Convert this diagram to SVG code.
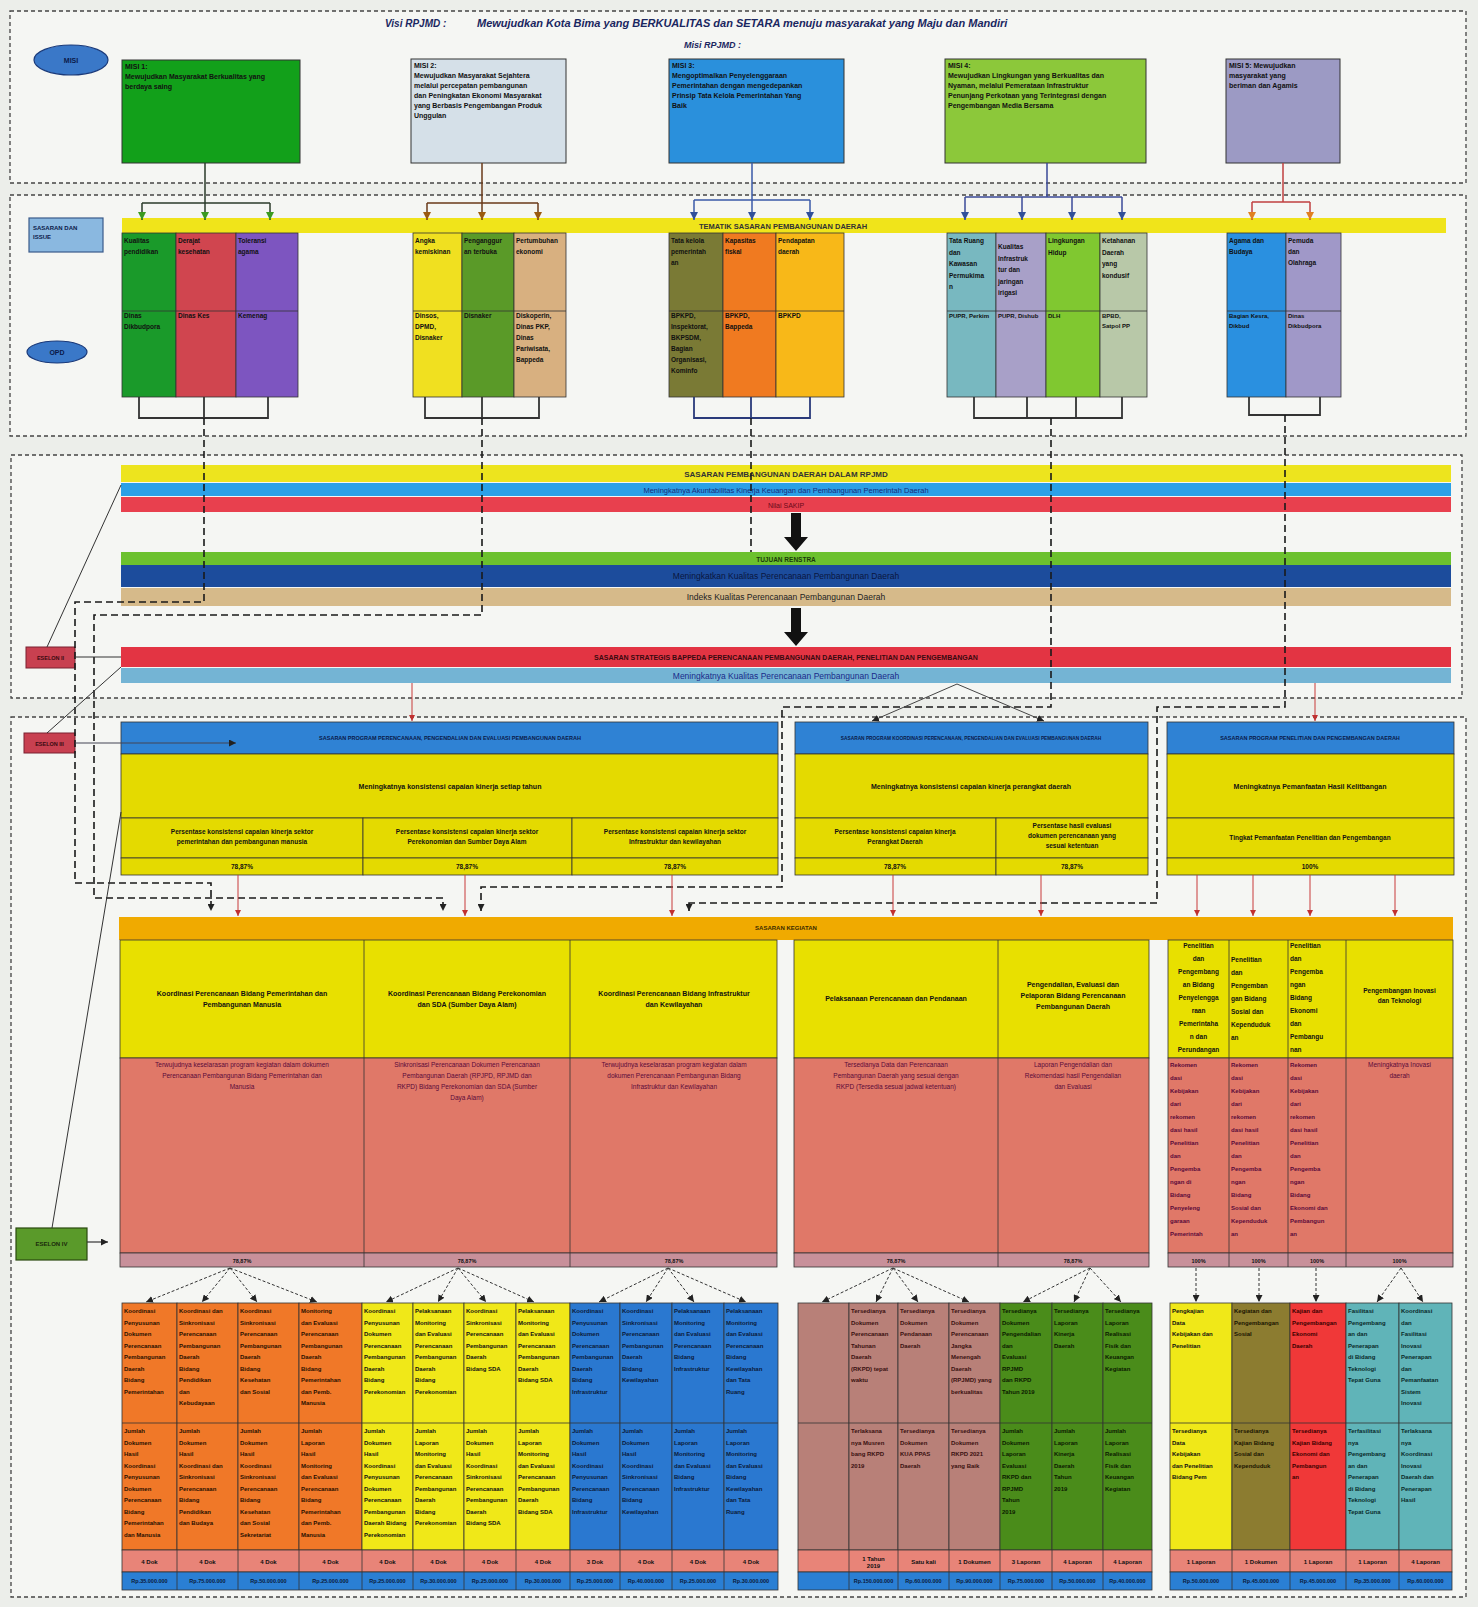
<svg xmlns="http://www.w3.org/2000/svg" width="1478" height="1607" viewBox="0 0 1478 1607">
<style>
.t{font-family:"Liberation Sans",Arial,sans-serif;font-weight:bold;fill:#111}
.n{font-family:"Liberation Sans",Arial,sans-serif;fill:#111}
.c{text-anchor:middle}
.frame{fill:#f5f6f3;stroke:#444;stroke-width:1.3;stroke-dasharray:4 3}
.cell{stroke:#333;stroke-width:0.8}
.dv{stroke:#333;stroke-width:0.8}
.f5{font-size:5.5px}.f6{font-size:6px}.f65{font-size:6.5px}.f7{font-size:7px}.f75{font-size:7.5px}.f8{font-size:8px}.f9{font-size:9px}
.route{fill:none;stroke:#1a1a1a;stroke-width:1.6;stroke-dasharray:7 4}
.red{fill:none;stroke:#c83a3a;stroke-width:1}
.fan{fill:none;stroke:#333;stroke-width:1;stroke-dasharray:3 2}
</style>
<defs>
<marker id="aK" viewBox="0 0 10 10" refX="10" refY="5" markerWidth="7" markerHeight="7" markerUnits="userSpaceOnUse" orient="auto"><path d="M0,0 L10,5 L0,10 z" fill="#222"/></marker>
<marker id="aR" viewBox="0 0 10 10" refX="10" refY="5" markerWidth="6" markerHeight="6" markerUnits="userSpaceOnUse" orient="auto"><path d="M0,0 L10,5 L0,10 z" fill="#c03030"/></marker>
<marker id="aG" viewBox="0 0 10 10" refX="10" refY="5" markerWidth="8" markerHeight="8" markerUnits="userSpaceOnUse" orient="auto"><path d="M0,0 L10,5 L0,10 z" fill="#3a9a20"/></marker>
<marker id="aB" viewBox="0 0 10 10" refX="10" refY="5" markerWidth="8" markerHeight="8" markerUnits="userSpaceOnUse" orient="auto"><path d="M0,0 L10,5 L0,10 z" fill="#9a5a10"/></marker>
<marker id="aU" viewBox="0 0 10 10" refX="10" refY="5" markerWidth="8" markerHeight="8" markerUnits="userSpaceOnUse" orient="auto"><path d="M0,0 L10,5 L0,10 z" fill="#30509a"/></marker>
<marker id="aO" viewBox="0 0 10 10" refX="10" refY="5" markerWidth="8" markerHeight="8" markerUnits="userSpaceOnUse" orient="auto"><path d="M0,0 L10,5 L0,10 z" fill="#e08020"/></marker>
</defs>
<rect width="1478" height="1607" fill="#eceeea"/>

<!-- frames -->
<g id="frames">
<rect class="frame" x="10" y="11" width="1456" height="172"/>
<rect class="frame" x="10" y="195" width="1456" height="241"/>
<rect class="frame" x="11" y="455" width="1451" height="243"/>
<rect class="frame" x="11" y="717" width="1455" height="880"/>
</g>

<!-- Section 1: Visi / Misi -->
<g id="visi">
<text class="t f9" x="385" y="27" style="font-style:italic;font-size:10px;fill:#1a2660">Visi RPJMD :</text>
<text class="t" x="477" y="27" style="font-style:italic;font-size:11px;fill:#1a2660">Mewujudkan Kota Bima yang BERKUALITAS dan SETARA menuju masyarakat yang Maju dan Mandiri</text>
<text class="t" x="684" y="48" style="font-style:italic;font-size:9px;fill:#1a2660">Misi RPJMD :</text>
</g>
<g id="misi-label">
<ellipse cx="71" cy="60" rx="37" ry="15" fill="#3a78c8" stroke="#1a3a7a" stroke-width="1.2"/>
<text class="t f7 c" x="71" y="63" style="fill:#0a1a4a">MISI</text>
</g>
<g id="misi1">
<rect x="122" y="60" width="178" height="103" fill="#12a01a" stroke="#333"/>
<text class="t f7" x="125" y="69"><tspan x="125">MISI 1:</tspan><tspan x="125" dy="10">Mewujudkan Masyarakat Berkualitas yang</tspan><tspan x="125" dy="10">berdaya saing</tspan></text>
</g>
<g id="misi2">
<rect x="411" y="59" width="155" height="104" fill="#d5e0e8" stroke="#333"/>
<text class="t f7" x="414" y="68"><tspan x="414">MISI 2:</tspan><tspan x="414" dy="10">Mewujudkan Masyarakat Sejahtera</tspan><tspan x="414" dy="10">melalui percepatan pembangunan</tspan><tspan x="414" dy="10">dan Peningkatan Ekonomi Masyarakat</tspan><tspan x="414" dy="10">yang Berbasis Pengembangan Produk</tspan><tspan x="414" dy="10">Unggulan</tspan></text>
</g>
<g id="misi3">
<rect x="669" y="59" width="175" height="104" fill="#2a90dc" stroke="#333"/>
<text class="t f7" x="672" y="68"><tspan x="672">MISI 3:</tspan><tspan x="672" dy="10">Mengoptimalkan Penyelenggaraan</tspan><tspan x="672" dy="10">Pemerintahan dengan mengedepankan</tspan><tspan x="672" dy="10">Prinsip Tata Kelola Pemerintahan Yang</tspan><tspan x="672" dy="10">Baik</tspan></text>
</g>
<g id="misi4">
<rect x="945" y="59" width="201" height="104" fill="#8cc83a" stroke="#333"/>
<text class="t f7" x="948" y="68"><tspan x="948">MISI 4:</tspan><tspan x="948" dy="10">Mewujudkan Lingkungan yang Berkualitas dan</tspan><tspan x="948" dy="10">Nyaman, melalui Pemerataan Infrastruktur</tspan><tspan x="948" dy="10">Penunjang Perkotaan yang Terintegrasi dengan</tspan><tspan x="948" dy="10">Pengembangan Media Bersama</tspan></text>
</g>
<g id="misi5">
<rect x="1226" y="59" width="114" height="104" fill="#9c9ac4" stroke="#333"/>
<text class="t f7" x="1229" y="68"><tspan x="1229">MISI 5: Mewujudkan</tspan><tspan x="1229" dy="10">masyarakat yang</tspan><tspan x="1229" dy="10">beriman dan Agamis</tspan></text>
</g>

<!-- Section 2: Tematik -->
<g id="label-sasaran-isu">
<rect x="29" y="218" width="74" height="34" fill="#8ab8e0" stroke="#3a5a8a" stroke-width="1.2"/>
<text class="t f6" x="33" y="230" style="fill:#0a1a4a"><tspan x="33">SASARAN DAN</tspan><tspan x="33" dy="9">ISSUE</tspan></text>
</g>
<g id="label-opd">
<ellipse cx="57" cy="352" rx="30" ry="11" fill="#3a78c8" stroke="#1a3a7a" stroke-width="1.2"/>
<text class="t f7 c" x="57" y="355" style="fill:#0a1a4a">OPD</text>
</g>
<g id="tematik-bar">
<rect x="122" y="218" width="1324" height="15" fill="#f0e41a"/>
<text class="t f75 c" x="783" y="228.5" style="fill:#333">TEMATIK SASARAN PEMBANGUNAN DAERAH</text>
</g>

<g id="tematik-misi1">
<rect class="cell" x="122" y="233" width="54" height="164" fill="#1a9a2a"/>
<rect class="cell" x="176" y="233" width="60" height="164" fill="#d0454f"/>
<rect class="cell" x="236" y="233" width="62" height="164" fill="#7d55c0"/>
<line class="dv" x1="122" y1="311" x2="298" y2="311"/>
<text class="t f65" x="124" y="243"><tspan x="124">Kualitas</tspan><tspan x="124" dy="11">pendidikan</tspan></text>
<text class="t f65" x="178" y="243"><tspan x="178">Derajat</tspan><tspan x="178" dy="11">kesehatan</tspan></text>
<text class="t f65" x="238" y="243"><tspan x="238">Toleransi</tspan><tspan x="238" dy="11">agama</tspan></text>
<text class="t f65" x="124" y="318"><tspan x="124">Dinas</tspan><tspan x="124" dy="11">Dikbudpora</tspan></text>
<text class="t f65" x="178" y="318">Dinas Kes</text>
<text class="t f65" x="238" y="318">Kemenag</text>
</g>
<g id="tematik-misi2">
<rect class="cell" x="413" y="233" width="49" height="164" fill="#f0e020"/>
<rect class="cell" x="462" y="233" width="52" height="164" fill="#5a9a28"/>
<rect class="cell" x="514" y="233" width="52" height="164" fill="#d8b080"/>
<line class="dv" x1="413" y1="311" x2="566" y2="311"/>
<text class="t f65" x="415" y="243"><tspan x="415">Angka</tspan><tspan x="415" dy="11">kemiskinan</tspan></text>
<text class="t f65" x="464" y="243"><tspan x="464">Penganggur</tspan><tspan x="464" dy="11">an terbuka</tspan></text>
<text class="t f65" x="516" y="243"><tspan x="516">Pertumbuhan</tspan><tspan x="516" dy="11">ekonomi</tspan></text>
<text class="t f65" x="415" y="318"><tspan x="415">Dinsos,</tspan><tspan x="415" dy="11">DPMD,</tspan><tspan x="415" dy="11">Disnaker</tspan></text>
<text class="t f65" x="464" y="318">Disnaker</text>
<text class="t f65" x="516" y="318"><tspan x="516">Diskoperin,</tspan><tspan x="516" dy="11">Dinas PKP,</tspan><tspan x="516" dy="11">Dinas</tspan><tspan x="516" dy="11">Pariwisata,</tspan><tspan x="516" dy="11">Bappeda</tspan></text>
</g>
<g id="tematik-misi3">
<rect class="cell" x="669" y="233" width="54" height="164" fill="#7a7a35"/>
<rect class="cell" x="723" y="233" width="53" height="164" fill="#f07a20"/>
<rect class="cell" x="776" y="233" width="68" height="164" fill="#f8b818"/>
<line class="dv" x1="669" y1="311" x2="844" y2="311"/>
<text class="t f65" x="671" y="243"><tspan x="671">Tata kelola</tspan><tspan x="671" dy="11">pemerintah</tspan><tspan x="671" dy="11">an</tspan></text>
<text class="t f65" x="725" y="243"><tspan x="725">Kapasitas</tspan><tspan x="725" dy="11">fiskal</tspan></text>
<text class="t f65" x="778" y="243"><tspan x="778">Pendapatan</tspan><tspan x="778" dy="11">daerah</tspan></text>
<text class="t f65" x="671" y="318"><tspan x="671">BPKPD,</tspan><tspan x="671" dy="11">Inspektorat,</tspan><tspan x="671" dy="11">BKPSDM,</tspan><tspan x="671" dy="11">Bagian</tspan><tspan x="671" dy="11">Organisasi,</tspan><tspan x="671" dy="11">Kominfo</tspan></text>
<text class="t f65" x="725" y="318"><tspan x="725">BPKPD,</tspan><tspan x="725" dy="11">Bappeda</tspan></text>
<text class="t f65" x="778" y="318">BPKPD</text>
</g>
<g id="tematik-misi4">
<rect class="cell" x="947" y="233" width="49" height="164" fill="#78b8c0"/>
<rect class="cell" x="996" y="233" width="50" height="164" fill="#a8a0c8"/>
<rect class="cell" x="1046" y="233" width="54" height="164" fill="#80c830"/>
<rect class="cell" x="1100" y="233" width="47" height="164" fill="#b8c8a8"/>
<line class="dv" x1="947" y1="311" x2="1147" y2="311"/>
<text class="t f65" x="949" y="243"><tspan x="949">Tata Ruang</tspan><tspan x="949" dy="11.5">dan</tspan><tspan x="949" dy="11.5">Kawasan</tspan><tspan x="949" dy="11.5">Permukima</tspan><tspan x="949" dy="11.5">n</tspan></text>
<text class="t f65" x="998" y="249"><tspan x="998">Kualitas</tspan><tspan x="998" dy="11.5">Infrastruk</tspan><tspan x="998" dy="11.5">tur dan</tspan><tspan x="998" dy="11.5">jaringan</tspan><tspan x="998" dy="11.5">irigasi</tspan></text>
<text class="t f65" x="1048" y="243"><tspan x="1048">Lingkungan</tspan><tspan x="1048" dy="11.5">Hidup</tspan></text>
<text class="t f65" x="1102" y="243"><tspan x="1102">Ketahanan</tspan><tspan x="1102" dy="11.5">Daerah</tspan><tspan x="1102" dy="11.5">yang</tspan><tspan x="1102" dy="11.5">kondusif</tspan></text>
<text class="t f6" x="949" y="318">PUPR, Perkim</text>
<text class="t f6" x="998" y="318">PUPR, Dishub</text>
<text class="t f6" x="1048" y="318">DLH</text>
<text class="t f6" x="1102" y="318"><tspan x="1102">BPBD,</tspan><tspan x="1102" dy="10">Satpol PP</tspan></text>
</g>
<g id="tematik-misi5">
<rect class="cell" x="1227" y="233" width="59" height="164" fill="#2a90e0"/>
<rect class="cell" x="1286" y="233" width="55" height="164" fill="#a098c8"/>
<line class="dv" x1="1227" y1="311" x2="1341" y2="311"/>
<text class="t f65" x="1229" y="243"><tspan x="1229">Agama dan</tspan><tspan x="1229" dy="11">Budaya</tspan></text>
<text class="t f65" x="1288" y="243"><tspan x="1288">Pemuda</tspan><tspan x="1288" dy="11">dan</tspan><tspan x="1288" dy="11">Olahraga</tspan></text>
<text class="t f6" x="1229" y="318"><tspan x="1229">Bagian Kesra,</tspan><tspan x="1229" dy="10">Dikbud</tspan></text>
<text class="t f6" x="1288" y="318"><tspan x="1288">Dinas</tspan><tspan x="1288" dy="10">Dikbudpora</tspan></text>
</g>

<!-- Section 3: Sasaran RPJMD / Tujuan / Sasaran strategis -->
<g id="sasaran-rpjmd">
<rect x="121" y="465" width="1330" height="17" fill="#ede41e"/>
<text class="t f8 c" x="786" y="476.5" style="fill:#333">SASARAN PEMBANGUNAN DAERAH DALAM RPJMD</text>
<rect x="121" y="483" width="1330" height="13" fill="#2ba0e6"/>
<text class="n c" x="786" y="492.5" style="font-size:7.5px;fill:#1a2a7a">Meningkatnya Akuntabilitas Kinerja Keuangan dan Pembangunan Pemerintah Daerah</text>
<rect x="121" y="497" width="1330" height="15" fill="#e8404e"/>
<text class="n c" x="786" y="507.5" style="font-size:7px;fill:#6a0a1a">Nilai SAKIP</text>
</g>
<g id="tujuan-renstra">
<rect x="121" y="552" width="1330" height="13" fill="#6cc12e"/>
<text class="t c" x="786" y="561.5" style="font-size:6.5px;fill:#1a3a0a">TUJUAN RENSTRA</text>
<rect x="121" y="565" width="1330" height="22" fill="#1c4c9c"/>
<text class="n c" x="786" y="579" style="font-size:8.5px;fill:#0a1640">Meningkatkan Kualitas Perencanaan Pembangunan Daerah</text>
<rect x="121" y="588" width="1330" height="18" fill="#d6ba8a"/>
<text class="n c" x="786" y="600" style="font-size:8.5px;fill:#222">Indeks Kualitas Perencanaan Pembangunan Daerah</text>
</g>
<g id="sasaran-strategis">
<rect x="121" y="647" width="1330" height="20" fill="#e33443"/>
<text class="t c" x="786" y="660" style="font-size:7px;fill:#3a0a10">SASARAN STRATEGIS BAPPEDA PERENCANAAN PEMBANGUNAN DAERAH, PENELITIAN DAN PENGEMBANGAN</text>
<rect x="121" y="668" width="1330" height="15" fill="#74b4d4"/>
<text class="n c" x="786" y="679" style="font-size:8.5px;fill:#1a2a8a">Meningkatnya Kualitas Perencanaan Pembangunan Daerah</text>
</g>
<g id="big-arrows">
<polygon points="791,513 801,513 801,537 808,537 796,551 784,537 791,537" fill="#111"/>
<polygon points="791,608 801,608 801,632 808,632 796,646 784,632 791,632" fill="#111"/>
</g>

<!-- Eselon labels -->
<g id="eselon2"><rect x="26" y="647" width="49" height="21" fill="#c84050" stroke="#7a2030"/><text class="t f5 c" x="50.5" y="660" style="fill:#3a0a10">ESELON II</text></g>
<g id="eselon3"><rect x="24" y="733" width="51" height="20" fill="#c84050" stroke="#7a2030"/><text class="t f5 c" x="49.5" y="745.5" style="fill:#3a0a10">ESELON III</text></g>
<g id="eselon4"><rect x="16" y="1228" width="71" height="32" fill="#5a9a2a" stroke="#2a4a10" stroke-width="1.2"/><text class="t f6 c" x="51.5" y="1246" style="fill:#1a2a0a">ESELON IV</text></g>

<!-- Eselon III blocks -->
<g id="es3-block1">
<rect class="cell" x="121" y="722" width="657" height="32" fill="#2f82d4"/>
<text class="t f5 c" x="450" y="740" style="fill:#0a1a4a">SASARAN PROGRAM PERENCANAAN, PENGENDALIAN DAN EVALUASI PEMBANGUNAN DAERAH</text>
<rect class="cell" x="121" y="754" width="657" height="64" fill="#e4da00"/>
<text class="t f7 c" x="450" y="789">Meningkatnya konsistensi capaian kinerja setiap tahun</text>
<rect class="cell" x="121" y="818" width="242" height="40" fill="#e4da00"/>
<rect class="cell" x="363" y="818" width="209" height="40" fill="#e4da00"/>
<rect class="cell" x="572" y="818" width="206" height="40" fill="#e4da00"/>
<rect class="cell" x="121" y="858" width="242" height="17" fill="#e4da00"/>
<rect class="cell" x="363" y="858" width="209" height="17" fill="#e4da00"/>
<rect class="cell" x="572" y="858" width="206" height="17" fill="#e4da00"/>
<text class="t f65 c" x="242" y="834"><tspan x="242">Persentase konsistensi capaian kinerja sektor</tspan><tspan x="242" dy="10">pemerintahan dan pembangunan manusia</tspan></text>
<text class="t f65 c" x="467" y="834"><tspan x="467">Persentase konsistensi capaian kinerja sektor</tspan><tspan x="467" dy="10">Perekonomian dan Sumber Daya Alam</tspan></text>
<text class="t f65 c" x="675" y="834"><tspan x="675">Persentase konsistensi capaian kinerja sektor</tspan><tspan x="675" dy="10">Infrastruktur dan kewilayahan</tspan></text>
<text class="t f65 c" x="242" y="869">78,87%</text>
<text class="t f65 c" x="467" y="869">78,87%</text>
<text class="t f65 c" x="675" y="869">78,87%</text>
</g>
<g id="es3-block2">
<rect class="cell" x="795" y="722" width="353" height="32" fill="#2f82d4"/>
<text class="t c" x="971" y="740" style="font-size:4.8px;fill:#0a1a4a">SASARAN PROGRAM KOORDINASI PERENCANAAN, PENGENDALIAN DAN EVALUASI PEMBANGUNAN DAERAH</text>
<rect class="cell" x="795" y="754" width="353" height="64" fill="#e4da00"/>
<text class="t f7 c" x="971" y="789">Meningkatnya konsistensi capaian kinerja perangkat daerah</text>
<rect class="cell" x="795" y="818" width="201" height="40" fill="#e4da00"/>
<rect class="cell" x="996" y="818" width="152" height="40" fill="#e4da00"/>
<rect class="cell" x="795" y="858" width="201" height="17" fill="#e4da00"/>
<rect class="cell" x="996" y="858" width="152" height="17" fill="#e4da00"/>
<text class="t f65 c" x="895" y="834"><tspan x="895">Persentase konsistensi capaian kinerja</tspan><tspan x="895" dy="10">Perangkat Daerah</tspan></text>
<text class="t f65 c" x="1072" y="828"><tspan x="1072">Persentase hasil evaluasi</tspan><tspan x="1072" dy="10">dokumen perencanaan yang</tspan><tspan x="1072" dy="10">sesuai ketentuan</tspan></text>
<text class="t f65 c" x="895" y="869">78,87%</text>
<text class="t f65 c" x="1072" y="869">78,87%</text>
</g>
<g id="es3-block3">
<rect class="cell" x="1167" y="722" width="287" height="32" fill="#2f82d4"/>
<text class="t f5 c" x="1310" y="740" style="fill:#0a1a4a">SASARAN PROGRAM PENELITIAN DAN PENGEMBANGAN DAERAH</text>
<rect class="cell" x="1167" y="754" width="287" height="64" fill="#e4da00"/>
<text class="t f7 c" x="1310" y="789">Meningkatnya Pemanfaatan Hasil Kelitbangan</text>
<rect class="cell" x="1167" y="818" width="287" height="40" fill="#e4da00"/>
<rect class="cell" x="1167" y="858" width="287" height="17" fill="#e4da00"/>
<text class="t f65 c" x="1310" y="840">Tingkat Pemanfaatan Penelitian dan Pengembangan</text>
<text class="t f65 c" x="1310" y="869">100%</text>
</g>

<!-- Sasaran Kegiatan -->
<g id="sasaran-kegiatan-bar">
<rect x="119" y="917" width="1334" height="23" fill="#f0aa00"/>
<text class="t f6 c" x="786" y="930" style="fill:#3a2a00">SASARAN KEGIATAN</text>
</g>
<g id="keg-block1">
<rect class="cell" x="120" y="940" width="657" height="118" fill="#e8e000"/>
<rect class="cell" x="120" y="1058" width="657" height="195" fill="#e07868"/>
<rect class="cell" x="120" y="1253" width="657" height="14" fill="#c8909a"/>
<line class="dv" x1="364" y1="940" x2="364" y2="1267"/>
<line class="dv" x1="570" y1="940" x2="570" y2="1267"/>
<text class="t f7 c" x="242" y="996"><tspan x="242">Koordinasi Perencanaan Bidang Pemerintahan dan</tspan><tspan x="242" dy="11">Pembangunan Manusia</tspan></text>
<text class="t f7 c" x="467" y="996"><tspan x="467">Koordinasi Perencanaan Bidang Perekonomian</tspan><tspan x="467" dy="11">dan SDA (Sumber Daya Alam)</tspan></text>
<text class="t f7 c" x="674" y="996"><tspan x="674">Koordinasi Perencanaan Bidang Infrastruktur</tspan><tspan x="674" dy="11">dan Kewilayahan</tspan></text>
<text class="n c" x="242" y="1067" style="font-size:6.5px;fill:#5a0a3a"><tspan x="242">Terwujudnya keselarasan program kegiatan dalam dokumen</tspan><tspan x="242" dy="11">Perencanaan Pembangunan Bidang Pemerintahan dan</tspan><tspan x="242" dy="11">Manusia</tspan></text>
<text class="n c" x="467" y="1067" style="font-size:6.5px;fill:#5a0a3a"><tspan x="467">Sinkronisasi Perencanaan Dokumen Perencanaan</tspan><tspan x="467" dy="11">Pembangunan Daerah (RPJPD, RPJMD dan</tspan><tspan x="467" dy="11">RKPD) Bidang Perekonomian dan SDA (Sumber</tspan><tspan x="467" dy="11">Daya Alam)</tspan></text>
<text class="n c" x="674" y="1067" style="font-size:6.5px;fill:#5a0a3a"><tspan x="674">Terwujudnya keselarasan program kegiatan dalam</tspan><tspan x="674" dy="11">dokumen Perencanaan Pembangunan Bidang</tspan><tspan x="674" dy="11">Infrastruktur dan Kewilayahan</tspan></text>
<text class="t f5 c" x="242" y="1262.5">78,87%</text>
<text class="t f5 c" x="467" y="1262.5">78,87%</text>
<text class="t f5 c" x="674" y="1262.5">78,87%</text>
</g>
<g id="keg-block2">
<rect class="cell" x="794" y="940" width="355" height="118" fill="#e8e000"/>
<rect class="cell" x="794" y="1058" width="355" height="195" fill="#e07868"/>
<rect class="cell" x="794" y="1253" width="355" height="14" fill="#c8909a"/>
<line class="dv" x1="998" y1="940" x2="998" y2="1267"/>
<text class="t f7 c" x="896" y="1001">Pelaksanaan Perencanaan dan Pendanaan</text>
<text class="t f7 c" x="1073" y="987"><tspan x="1073">Pengendalian, Evaluasi dan</tspan><tspan x="1073" dy="11">Pelaporan Bidang Perencanaan</tspan><tspan x="1073" dy="11">Pembangunan Daerah</tspan></text>
<text class="n c" x="896" y="1067" style="font-size:6.5px;fill:#5a0a3a"><tspan x="896">Tersedianya Data dan Perencanaan</tspan><tspan x="896" dy="11">Pembangunan Daerah yang sesuai dengan</tspan><tspan x="896" dy="11">RKPD (Tersedia sesuai jadwal ketentuan)</tspan></text>
<text class="n c" x="1073" y="1067" style="font-size:6.5px;fill:#5a0a3a"><tspan x="1073">Laporan Pengendalian dan</tspan><tspan x="1073" dy="11">Rekomendasi hasil Pengendalian</tspan><tspan x="1073" dy="11">dan Evaluasi</tspan></text>
<text class="t f5 c" x="896" y="1262.5">78,87%</text>
<text class="t f5 c" x="1073" y="1262.5">78,87%</text>
</g>
<g id="keg-block3">
<rect class="cell" x="1168" y="940" width="285" height="118" fill="#e8e000"/>
<rect class="cell" x="1168" y="1058" width="285" height="195" fill="#e07868"/>
<rect class="cell" x="1168" y="1253" width="285" height="14" fill="#c8909a"/>
<line class="dv" x1="1229" y1="940" x2="1229" y2="1267"/>
<line class="dv" x1="1288" y1="940" x2="1288" y2="1267"/>
<line class="dv" x1="1346" y1="940" x2="1346" y2="1267"/>
<text class="t f65 c" x="1198.5" y="948"><tspan x="1198.5">Penelitian</tspan><tspan x="1198.5" dy="13">dan</tspan><tspan x="1198.5" dy="13">Pengembang</tspan><tspan x="1198.5" dy="13">an Bidang</tspan><tspan x="1198.5" dy="13">Penyelengga</tspan><tspan x="1198.5" dy="13">raan</tspan><tspan x="1198.5" dy="13">Pemerintaha</tspan><tspan x="1198.5" dy="13">n dan</tspan><tspan x="1198.5" dy="13">Perundangan</tspan></text>
<text class="t f65" x="1231" y="962"><tspan x="1231">Penelitian</tspan><tspan x="1231" dy="13">dan</tspan><tspan x="1231" dy="13">Pengemban</tspan><tspan x="1231" dy="13">gan Bidang</tspan><tspan x="1231" dy="13">Sosial dan</tspan><tspan x="1231" dy="13">Kependuduk</tspan><tspan x="1231" dy="13">an</tspan></text>
<text class="t f65" x="1290" y="948"><tspan x="1290">Penelitian</tspan><tspan x="1290" dy="13">dan</tspan><tspan x="1290" dy="13">Pengemba</tspan><tspan x="1290" dy="13">ngan</tspan><tspan x="1290" dy="13">Bidang</tspan><tspan x="1290" dy="13">Ekonomi</tspan><tspan x="1290" dy="13">dan</tspan><tspan x="1290" dy="13">Pembangu</tspan><tspan x="1290" dy="13">nan</tspan></text>
<text class="t f65 c" x="1399.5" y="993"><tspan x="1399.5">Pengembangan Inovasi</tspan><tspan x="1399.5" dy="10">dan Teknologi</tspan></text>
<text class="t f6" x="1170" y="1067" style="fill:#5a0a3a"><tspan x="1170">Rekomen</tspan><tspan x="1170" dy="13">dasi</tspan><tspan x="1170" dy="13">Kebijakan</tspan><tspan x="1170" dy="13">dari</tspan><tspan x="1170" dy="13">rekomen</tspan><tspan x="1170" dy="13">dasi hasil</tspan><tspan x="1170" dy="13">Penelitian</tspan><tspan x="1170" dy="13">dan</tspan><tspan x="1170" dy="13">Pengemba</tspan><tspan x="1170" dy="13">ngan di</tspan><tspan x="1170" dy="13">Bidang</tspan><tspan x="1170" dy="13">Penyeleng</tspan><tspan x="1170" dy="13">garaan</tspan><tspan x="1170" dy="13">Pemerintah</tspan></text>
<text class="t f6" x="1231" y="1067" style="fill:#5a0a3a"><tspan x="1231">Rekomen</tspan><tspan x="1231" dy="13">dasi</tspan><tspan x="1231" dy="13">Kebijakan</tspan><tspan x="1231" dy="13">dari</tspan><tspan x="1231" dy="13">rekomen</tspan><tspan x="1231" dy="13">dasi hasil</tspan><tspan x="1231" dy="13">Penelitian</tspan><tspan x="1231" dy="13">dan</tspan><tspan x="1231" dy="13">Pengemba</tspan><tspan x="1231" dy="13">ngan</tspan><tspan x="1231" dy="13">Bidang</tspan><tspan x="1231" dy="13">Sosial dan</tspan><tspan x="1231" dy="13">Kependuduk</tspan><tspan x="1231" dy="13">an</tspan></text>
<text class="t f6" x="1290" y="1067" style="fill:#5a0a3a"><tspan x="1290">Rekomen</tspan><tspan x="1290" dy="13">dasi</tspan><tspan x="1290" dy="13">Kebijakan</tspan><tspan x="1290" dy="13">dari</tspan><tspan x="1290" dy="13">rekomen</tspan><tspan x="1290" dy="13">dasi hasil</tspan><tspan x="1290" dy="13">Penelitian</tspan><tspan x="1290" dy="13">dan</tspan><tspan x="1290" dy="13">Pengemba</tspan><tspan x="1290" dy="13">ngan</tspan><tspan x="1290" dy="13">Bidang</tspan><tspan x="1290" dy="13">Ekonomi dan</tspan><tspan x="1290" dy="13">Pembangun</tspan><tspan x="1290" dy="13">an</tspan></text>
<text class="n c" x="1399.5" y="1067" style="font-size:6.5px;fill:#5a0a3a"><tspan x="1399.5">Meningkatnya Inovasi</tspan><tspan x="1399.5" dy="11">daerah</tspan></text>
<text class="t f5 c" x="1198.5" y="1262.5">100%</text>
<text class="t f5 c" x="1258.5" y="1262.5">100%</text>
<text class="t f5 c" x="1317" y="1262.5">100%</text>
<text class="t f5 c" x="1399.5" y="1262.5">100%</text>
</g>

<!-- Sub-kegiatan tables -->
<g id="sub-orange">
<rect class="cell" x="122" y="1303" width="55" height="247" fill="#f07828"/>
<rect class="cell" x="177" y="1303" width="61" height="247" fill="#f07828"/>
<rect class="cell" x="238" y="1303" width="61" height="247" fill="#f07828"/>
<rect class="cell" x="299" y="1303" width="63" height="247" fill="#f07828"/>
<line class="dv" x1="122" y1="1423" x2="362" y2="1423"/>
<text class="t f6" x="124" y="1313" style="fill:#2a1000"><tspan x="124">Koordinasi</tspan><tspan x="124" dy="11.5">Penyusunan</tspan><tspan x="124" dy="11.5">Dokumen</tspan><tspan x="124" dy="11.5">Perencanaan</tspan><tspan x="124" dy="11.5">Pembangunan</tspan><tspan x="124" dy="11.5">Daerah</tspan><tspan x="124" dy="11.5">Bidang</tspan><tspan x="124" dy="11.5">Pemerintahan</tspan></text>
<text class="t f6" x="179" y="1313" style="fill:#2a1000"><tspan x="179">Koordinasi dan</tspan><tspan x="179" dy="11.5">Sinkronisasi</tspan><tspan x="179" dy="11.5">Perencanaan</tspan><tspan x="179" dy="11.5">Pembangunan</tspan><tspan x="179" dy="11.5">Daerah</tspan><tspan x="179" dy="11.5">Bidang</tspan><tspan x="179" dy="11.5">Pendidikan</tspan><tspan x="179" dy="11.5">dan</tspan><tspan x="179" dy="11.5">Kebudayaan</tspan></text>
<text class="t f6" x="240" y="1313" style="fill:#2a1000"><tspan x="240">Koordinasi</tspan><tspan x="240" dy="11.5">Sinkronisasi</tspan><tspan x="240" dy="11.5">Perencanaan</tspan><tspan x="240" dy="11.5">Pembangunan</tspan><tspan x="240" dy="11.5">Daerah</tspan><tspan x="240" dy="11.5">Bidang</tspan><tspan x="240" dy="11.5">Kesehatan</tspan><tspan x="240" dy="11.5">dan Sosial</tspan></text>
<text class="t f6" x="301" y="1313" style="fill:#2a1000"><tspan x="301">Monitoring</tspan><tspan x="301" dy="11.5">dan Evaluasi</tspan><tspan x="301" dy="11.5">Perencanaan</tspan><tspan x="301" dy="11.5">Pembangunan</tspan><tspan x="301" dy="11.5">Daerah</tspan><tspan x="301" dy="11.5">Bidang</tspan><tspan x="301" dy="11.5">Pemerintahan</tspan><tspan x="301" dy="11.5">dan Pemb.</tspan><tspan x="301" dy="11.5">Manusia</tspan></text>
<text class="t f6" x="124" y="1433" style="fill:#2a1000"><tspan x="124">Jumlah</tspan><tspan x="124" dy="11.5">Dokumen</tspan><tspan x="124" dy="11.5">Hasil</tspan><tspan x="124" dy="11.5">Koordinasi</tspan><tspan x="124" dy="11.5">Penyusunan</tspan><tspan x="124" dy="11.5">Dokumen</tspan><tspan x="124" dy="11.5">Perencanaan</tspan><tspan x="124" dy="11.5">Bidang</tspan><tspan x="124" dy="11.5">Pemerintahan</tspan><tspan x="124" dy="11.5">dan Manusia</tspan></text>
<text class="t f6" x="179" y="1433" style="fill:#2a1000"><tspan x="179">Jumlah</tspan><tspan x="179" dy="11.5">Dokumen</tspan><tspan x="179" dy="11.5">Hasil</tspan><tspan x="179" dy="11.5">Koordinasi dan</tspan><tspan x="179" dy="11.5">Sinkronisasi</tspan><tspan x="179" dy="11.5">Perencanaan</tspan><tspan x="179" dy="11.5">Bidang</tspan><tspan x="179" dy="11.5">Pendidikan</tspan><tspan x="179" dy="11.5">dan Budaya</tspan></text>
<text class="t f6" x="240" y="1433" style="fill:#2a1000"><tspan x="240">Jumlah</tspan><tspan x="240" dy="11.5">Dokumen</tspan><tspan x="240" dy="11.5">Hasil</tspan><tspan x="240" dy="11.5">Koordinasi</tspan><tspan x="240" dy="11.5">Sinkronisasi</tspan><tspan x="240" dy="11.5">Perencanaan</tspan><tspan x="240" dy="11.5">Bidang</tspan><tspan x="240" dy="11.5">Kesehatan</tspan><tspan x="240" dy="11.5">dan Sosial</tspan><tspan x="240" dy="11.5">Sekretariat</tspan></text>
<text class="t f6" x="301" y="1433" style="fill:#2a1000"><tspan x="301">Jumlah</tspan><tspan x="301" dy="11.5">Laporan</tspan><tspan x="301" dy="11.5">Hasil</tspan><tspan x="301" dy="11.5">Monitoring</tspan><tspan x="301" dy="11.5">dan Evaluasi</tspan><tspan x="301" dy="11.5">Perencanaan</tspan><tspan x="301" dy="11.5">Bidang</tspan><tspan x="301" dy="11.5">Pemerintahan</tspan><tspan x="301" dy="11.5">dan Pemb.</tspan><tspan x="301" dy="11.5">Manusia</tspan></text>
</g>
<g id="sub-yellow">
<rect class="cell" x="362" y="1303" width="51" height="247" fill="#f0e818"/>
<rect class="cell" x="413" y="1303" width="51" height="247" fill="#f0e818"/>
<rect class="cell" x="464" y="1303" width="52" height="247" fill="#f0e818"/>
<rect class="cell" x="516" y="1303" width="54" height="247" fill="#f0e818"/>
<line class="dv" x1="362" y1="1423" x2="570" y2="1423"/>
<text class="t f6" x="364" y="1313"><tspan x="364">Koordinasi</tspan><tspan x="364" dy="11.5">Penyusunan</tspan><tspan x="364" dy="11.5">Dokumen</tspan><tspan x="364" dy="11.5">Perencanaan</tspan><tspan x="364" dy="11.5">Pembangunan</tspan><tspan x="364" dy="11.5">Daerah</tspan><tspan x="364" dy="11.5">Bidang</tspan><tspan x="364" dy="11.5">Perekonomian</tspan></text>
<text class="t f6" x="415" y="1313"><tspan x="415">Pelaksanaan</tspan><tspan x="415" dy="11.5">Monitoring</tspan><tspan x="415" dy="11.5">dan Evaluasi</tspan><tspan x="415" dy="11.5">Perencanaan</tspan><tspan x="415" dy="11.5">Pembangunan</tspan><tspan x="415" dy="11.5">Daerah</tspan><tspan x="415" dy="11.5">Bidang</tspan><tspan x="415" dy="11.5">Perekonomian</tspan></text>
<text class="t f6" x="466" y="1313"><tspan x="466">Koordinasi</tspan><tspan x="466" dy="11.5">Sinkronisasi</tspan><tspan x="466" dy="11.5">Perencanaan</tspan><tspan x="466" dy="11.5">Pembangunan</tspan><tspan x="466" dy="11.5">Daerah</tspan><tspan x="466" dy="11.5">Bidang SDA</tspan></text>
<text class="t f6" x="518" y="1313"><tspan x="518">Pelaksanaan</tspan><tspan x="518" dy="11.5">Monitoring</tspan><tspan x="518" dy="11.5">dan Evaluasi</tspan><tspan x="518" dy="11.5">Perencanaan</tspan><tspan x="518" dy="11.5">Pembangunan</tspan><tspan x="518" dy="11.5">Daerah</tspan><tspan x="518" dy="11.5">Bidang SDA</tspan></text>
<text class="t f6" x="364" y="1433"><tspan x="364">Jumlah</tspan><tspan x="364" dy="11.5">Dokumen</tspan><tspan x="364" dy="11.5">Hasil</tspan><tspan x="364" dy="11.5">Koordinasi</tspan><tspan x="364" dy="11.5">Penyusunan</tspan><tspan x="364" dy="11.5">Dokumen</tspan><tspan x="364" dy="11.5">Perencanaan</tspan><tspan x="364" dy="11.5">Pembangunan</tspan><tspan x="364" dy="11.5">Daerah Bidang</tspan><tspan x="364" dy="11.5">Perekonomian</tspan></text>
<text class="t f6" x="415" y="1433"><tspan x="415">Jumlah</tspan><tspan x="415" dy="11.5">Laporan</tspan><tspan x="415" dy="11.5">Monitoring</tspan><tspan x="415" dy="11.5">dan Evaluasi</tspan><tspan x="415" dy="11.5">Perencanaan</tspan><tspan x="415" dy="11.5">Pembangunan</tspan><tspan x="415" dy="11.5">Daerah</tspan><tspan x="415" dy="11.5">Bidang</tspan><tspan x="415" dy="11.5">Perekonomian</tspan></text>
<text class="t f6" x="466" y="1433"><tspan x="466">Jumlah</tspan><tspan x="466" dy="11.5">Dokumen</tspan><tspan x="466" dy="11.5">Hasil</tspan><tspan x="466" dy="11.5">Koordinasi</tspan><tspan x="466" dy="11.5">Sinkronisasi</tspan><tspan x="466" dy="11.5">Perencanaan</tspan><tspan x="466" dy="11.5">Pembangunan</tspan><tspan x="466" dy="11.5">Daerah</tspan><tspan x="466" dy="11.5">Bidang SDA</tspan></text>
<text class="t f6" x="518" y="1433"><tspan x="518">Jumlah</tspan><tspan x="518" dy="11.5">Laporan</tspan><tspan x="518" dy="11.5">Monitoring</tspan><tspan x="518" dy="11.5">dan Evaluasi</tspan><tspan x="518" dy="11.5">Perencanaan</tspan><tspan x="518" dy="11.5">Pembangunan</tspan><tspan x="518" dy="11.5">Daerah</tspan><tspan x="518" dy="11.5">Bidang SDA</tspan></text>
</g>
<g id="sub-blue">
<rect class="cell" x="570" y="1303" width="50" height="247" fill="#2a78d0"/>
<rect class="cell" x="620" y="1303" width="52" height="247" fill="#2a78d0"/>
<rect class="cell" x="672" y="1303" width="52" height="247" fill="#2a78d0"/>
<rect class="cell" x="724" y="1303" width="54" height="247" fill="#2a78d0"/>
<line class="dv" x1="570" y1="1423" x2="778" y2="1423"/>
<text class="t f6" x="572" y="1313" style="fill:#0a1a3a"><tspan x="572">Koordinasi</tspan><tspan x="572" dy="11.5">Penyusunan</tspan><tspan x="572" dy="11.5">Dokumen</tspan><tspan x="572" dy="11.5">Perencanaan</tspan><tspan x="572" dy="11.5">Pembangunan</tspan><tspan x="572" dy="11.5">Daerah</tspan><tspan x="572" dy="11.5">Bidang</tspan><tspan x="572" dy="11.5">Infrastruktur</tspan></text>
<text class="t f6" x="622" y="1313" style="fill:#0a1a3a"><tspan x="622">Koordinasi</tspan><tspan x="622" dy="11.5">Sinkronisasi</tspan><tspan x="622" dy="11.5">Perencanaan</tspan><tspan x="622" dy="11.5">Pembangunan</tspan><tspan x="622" dy="11.5">Daerah</tspan><tspan x="622" dy="11.5">Bidang</tspan><tspan x="622" dy="11.5">Kewilayahan</tspan></text>
<text class="t f6" x="674" y="1313" style="fill:#0a1a3a"><tspan x="674">Pelaksanaan</tspan><tspan x="674" dy="11.5">Monitoring</tspan><tspan x="674" dy="11.5">dan Evaluasi</tspan><tspan x="674" dy="11.5">Perencanaan</tspan><tspan x="674" dy="11.5">Bidang</tspan><tspan x="674" dy="11.5">Infrastruktur</tspan></text>
<text class="t f6" x="726" y="1313" style="fill:#0a1a3a"><tspan x="726">Pelaksanaan</tspan><tspan x="726" dy="11.5">Monitoring</tspan><tspan x="726" dy="11.5">dan Evaluasi</tspan><tspan x="726" dy="11.5">Perencanaan</tspan><tspan x="726" dy="11.5">Bidang</tspan><tspan x="726" dy="11.5">Kewilayahan</tspan><tspan x="726" dy="11.5">dan Tata</tspan><tspan x="726" dy="11.5">Ruang</tspan></text>
<text class="t f6" x="572" y="1433" style="fill:#0a1a3a"><tspan x="572">Jumlah</tspan><tspan x="572" dy="11.5">Dokumen</tspan><tspan x="572" dy="11.5">Hasil</tspan><tspan x="572" dy="11.5">Koordinasi</tspan><tspan x="572" dy="11.5">Penyusunan</tspan><tspan x="572" dy="11.5">Perencanaan</tspan><tspan x="572" dy="11.5">Bidang</tspan><tspan x="572" dy="11.5">Infrastruktur</tspan></text>
<text class="t f6" x="622" y="1433" style="fill:#0a1a3a"><tspan x="622">Jumlah</tspan><tspan x="622" dy="11.5">Dokumen</tspan><tspan x="622" dy="11.5">Hasil</tspan><tspan x="622" dy="11.5">Koordinasi</tspan><tspan x="622" dy="11.5">Sinkronisasi</tspan><tspan x="622" dy="11.5">Perencanaan</tspan><tspan x="622" dy="11.5">Bidang</tspan><tspan x="622" dy="11.5">Kewilayahan</tspan></text>
<text class="t f6" x="674" y="1433" style="fill:#0a1a3a"><tspan x="674">Jumlah</tspan><tspan x="674" dy="11.5">Laporan</tspan><tspan x="674" dy="11.5">Monitoring</tspan><tspan x="674" dy="11.5">dan Evaluasi</tspan><tspan x="674" dy="11.5">Bidang</tspan><tspan x="674" dy="11.5">Infrastruktur</tspan></text>
<text class="t f6" x="726" y="1433" style="fill:#0a1a3a"><tspan x="726">Jumlah</tspan><tspan x="726" dy="11.5">Laporan</tspan><tspan x="726" dy="11.5">Monitoring</tspan><tspan x="726" dy="11.5">dan Evaluasi</tspan><tspan x="726" dy="11.5">Bidang</tspan><tspan x="726" dy="11.5">Kewilayahan</tspan><tspan x="726" dy="11.5">dan Tata</tspan><tspan x="726" dy="11.5">Ruang</tspan></text>
</g>
<g id="sub-mauve">
<rect class="cell" x="798" y="1303" width="51" height="247" fill="#b88078"/>
<rect class="cell" x="849" y="1303" width="49" height="247" fill="#b88078"/>
<rect class="cell" x="898" y="1303" width="51" height="247" fill="#b88078"/>
<rect class="cell" x="949" y="1303" width="51" height="247" fill="#b88078"/>
<line class="dv" x1="798" y1="1423" x2="1000" y2="1423"/>
<text class="t f6" x="851" y="1313" style="fill:#3a1010"><tspan x="851">Tersedianya</tspan><tspan x="851" dy="11.5">Dokumen</tspan><tspan x="851" dy="11.5">Perencanaan</tspan><tspan x="851" dy="11.5">Tahunan</tspan><tspan x="851" dy="11.5">Daerah</tspan><tspan x="851" dy="11.5">(RKPD) tepat</tspan><tspan x="851" dy="11.5">waktu</tspan></text>
<text class="t f6" x="900" y="1313" style="fill:#3a1010"><tspan x="900">Tersedianya</tspan><tspan x="900" dy="11.5">Dokumen</tspan><tspan x="900" dy="11.5">Pendanaan</tspan><tspan x="900" dy="11.5">Daerah</tspan></text>
<text class="t f6" x="951" y="1313" style="fill:#3a1010"><tspan x="951">Tersedianya</tspan><tspan x="951" dy="11.5">Dokumen</tspan><tspan x="951" dy="11.5">Perencanaan</tspan><tspan x="951" dy="11.5">Jangka</tspan><tspan x="951" dy="11.5">Menengah</tspan><tspan x="951" dy="11.5">Daerah</tspan><tspan x="951" dy="11.5">(RPJMD) yang</tspan><tspan x="951" dy="11.5">berkualitas</tspan></text>
<text class="t f6" x="851" y="1433" style="fill:#3a1010"><tspan x="851">Terlaksana</tspan><tspan x="851" dy="11.5">nya Musren</tspan><tspan x="851" dy="11.5">bang RKPD</tspan><tspan x="851" dy="11.5">2019</tspan></text>
<text class="t f6" x="900" y="1433" style="fill:#3a1010"><tspan x="900">Tersedianya</tspan><tspan x="900" dy="11.5">Dokumen</tspan><tspan x="900" dy="11.5">KUA PPAS</tspan><tspan x="900" dy="11.5">Daerah</tspan></text>
<text class="t f6" x="951" y="1433" style="fill:#3a1010"><tspan x="951">Tersedianya</tspan><tspan x="951" dy="11.5">Dokumen</tspan><tspan x="951" dy="11.5">RKPD 2021</tspan><tspan x="951" dy="11.5">yang Baik</tspan></text>
</g>
<g id="sub-green">
<rect class="cell" x="1000" y="1303" width="52" height="247" fill="#4a8c1a"/>
<rect class="cell" x="1052" y="1303" width="51" height="247" fill="#4a8c1a"/>
<rect class="cell" x="1103" y="1303" width="49" height="247" fill="#4a8c1a"/>
<line class="dv" x1="1000" y1="1423" x2="1152" y2="1423"/>
<text class="t f6" x="1002" y="1313" style="fill:#0a1a00"><tspan x="1002">Tersedianya</tspan><tspan x="1002" dy="11.5">Dokumen</tspan><tspan x="1002" dy="11.5">Pengendalian</tspan><tspan x="1002" dy="11.5">dan</tspan><tspan x="1002" dy="11.5">Evaluasi</tspan><tspan x="1002" dy="11.5">RPJMD</tspan><tspan x="1002" dy="11.5">dan RKPD</tspan><tspan x="1002" dy="11.5">Tahun 2019</tspan></text>
<text class="t f6" x="1054" y="1313" style="fill:#0a1a00"><tspan x="1054">Tersedianya</tspan><tspan x="1054" dy="11.5">Laporan</tspan><tspan x="1054" dy="11.5">Kinerja</tspan><tspan x="1054" dy="11.5">Daerah</tspan></text>
<text class="t f6" x="1105" y="1313" style="fill:#0a1a00"><tspan x="1105">Tersedianya</tspan><tspan x="1105" dy="11.5">Laporan</tspan><tspan x="1105" dy="11.5">Realisasi</tspan><tspan x="1105" dy="11.5">Fisik dan</tspan><tspan x="1105" dy="11.5">Keuangan</tspan><tspan x="1105" dy="11.5">Kegiatan</tspan></text>
<text class="t f6" x="1002" y="1433" style="fill:#0a1a00"><tspan x="1002">Jumlah</tspan><tspan x="1002" dy="11.5">Dokumen</tspan><tspan x="1002" dy="11.5">Laporan</tspan><tspan x="1002" dy="11.5">Evaluasi</tspan><tspan x="1002" dy="11.5">RKPD dan</tspan><tspan x="1002" dy="11.5">RPJMD</tspan><tspan x="1002" dy="11.5">Tahun</tspan><tspan x="1002" dy="11.5">2019</tspan></text>
<text class="t f6" x="1054" y="1433" style="fill:#0a1a00"><tspan x="1054">Jumlah</tspan><tspan x="1054" dy="11.5">Laporan</tspan><tspan x="1054" dy="11.5">Kinerja</tspan><tspan x="1054" dy="11.5">Daerah</tspan><tspan x="1054" dy="11.5">Tahun</tspan><tspan x="1054" dy="11.5">2019</tspan></text>
<text class="t f6" x="1105" y="1433" style="fill:#0a1a00"><tspan x="1105">Jumlah</tspan><tspan x="1105" dy="11.5">Laporan</tspan><tspan x="1105" dy="11.5">Realisasi</tspan><tspan x="1105" dy="11.5">Fisik dan</tspan><tspan x="1105" dy="11.5">Keuangan</tspan><tspan x="1105" dy="11.5">Kegiatan</tspan></text>
</g>
<g id="sub-right">
<rect class="cell" x="1170" y="1303" width="62" height="247" fill="#f0e818"/>
<rect class="cell" x="1232" y="1303" width="58" height="247" fill="#8c7c30"/>
<rect class="cell" x="1290" y="1303" width="56" height="247" fill="#f03838"/>
<rect class="cell" x="1346" y="1303" width="53" height="247" fill="#60b4b8"/>
<rect class="cell" x="1399" y="1303" width="53" height="247" fill="#60b4b8"/>
<line class="dv" x1="1170" y1="1423" x2="1452" y2="1423"/>
<text class="t f6" x="1172" y="1313"><tspan x="1172">Pengkajian</tspan><tspan x="1172" dy="11.5">Data</tspan><tspan x="1172" dy="11.5">Kebijakan dan</tspan><tspan x="1172" dy="11.5">Penelitian</tspan></text>
<text class="t f6" x="1234" y="1313" style="fill:#1a1400"><tspan x="1234">Kegiatan dan</tspan><tspan x="1234" dy="11.5">Pengembangan</tspan><tspan x="1234" dy="11.5">Sosial</tspan></text>
<text class="t f6" x="1292" y="1313" style="fill:#3a0000"><tspan x="1292">Kajian dan</tspan><tspan x="1292" dy="11.5">Pengembangan</tspan><tspan x="1292" dy="11.5">Ekonomi</tspan><tspan x="1292" dy="11.5">Daerah</tspan></text>
<text class="t f6" x="1348" y="1313" style="fill:#0a2a2a"><tspan x="1348">Fasilitasi</tspan><tspan x="1348" dy="11.5">Pengembang</tspan><tspan x="1348" dy="11.5">an dan</tspan><tspan x="1348" dy="11.5">Penerapan</tspan><tspan x="1348" dy="11.5">di Bidang</tspan><tspan x="1348" dy="11.5">Teknologi</tspan><tspan x="1348" dy="11.5">Tepat Guna</tspan></text>
<text class="t f6" x="1401" y="1313" style="fill:#0a2a2a"><tspan x="1401">Koordinasi</tspan><tspan x="1401" dy="11.5">dan</tspan><tspan x="1401" dy="11.5">Fasilitasi</tspan><tspan x="1401" dy="11.5">Inovasi</tspan><tspan x="1401" dy="11.5">Penerapan</tspan><tspan x="1401" dy="11.5">dan</tspan><tspan x="1401" dy="11.5">Pemanfaatan</tspan><tspan x="1401" dy="11.5">Sistem</tspan><tspan x="1401" dy="11.5">Inovasi</tspan></text>
<text class="t f6" x="1172" y="1433"><tspan x="1172">Tersedianya</tspan><tspan x="1172" dy="11.5">Data</tspan><tspan x="1172" dy="11.5">Kebijakan</tspan><tspan x="1172" dy="11.5">dan Penelitian</tspan><tspan x="1172" dy="11.5">Bidang Pem</tspan></text>
<text class="t f6" x="1234" y="1433" style="fill:#1a1400"><tspan x="1234">Tersedianya</tspan><tspan x="1234" dy="11.5">Kajian Bidang</tspan><tspan x="1234" dy="11.5">Sosial dan</tspan><tspan x="1234" dy="11.5">Kependuduk</tspan></text>
<text class="t f6" x="1292" y="1433" style="fill:#3a0000"><tspan x="1292">Tersedianya</tspan><tspan x="1292" dy="11.5">Kajian Bidang</tspan><tspan x="1292" dy="11.5">Ekonomi dan</tspan><tspan x="1292" dy="11.5">Pembangun</tspan><tspan x="1292" dy="11.5">an</tspan></text>
<text class="t f6" x="1348" y="1433" style="fill:#0a2a2a"><tspan x="1348">Terfasilitasi</tspan><tspan x="1348" dy="11.5">nya</tspan><tspan x="1348" dy="11.5">Pengembang</tspan><tspan x="1348" dy="11.5">an dan</tspan><tspan x="1348" dy="11.5">Penerapan</tspan><tspan x="1348" dy="11.5">di Bidang</tspan><tspan x="1348" dy="11.5">Teknologi</tspan><tspan x="1348" dy="11.5">Tepat Guna</tspan></text>
<text class="t f6" x="1401" y="1433" style="fill:#0a2a2a"><tspan x="1401">Terlaksana</tspan><tspan x="1401" dy="11.5">nya</tspan><tspan x="1401" dy="11.5">Koordinasi</tspan><tspan x="1401" dy="11.5">Inovasi</tspan><tspan x="1401" dy="11.5">Daerah dan</tspan><tspan x="1401" dy="11.5">Penerapan</tspan><tspan x="1401" dy="11.5">Hasil</tspan></text>
</g>
<g id="sub-values">
<rect x="122" y="1550" width="656" height="22" fill="#e88478" stroke="#333" stroke-width="0.8"/>
<rect x="122" y="1572" width="656" height="18" fill="#2a7fd4" stroke="#333" stroke-width="0.8"/>
<rect x="798" y="1550" width="354" height="22" fill="#e88478" stroke="#333" stroke-width="0.8"/>
<rect x="798" y="1572" width="354" height="18" fill="#2a7fd4" stroke="#333" stroke-width="0.8"/>
<rect x="1170" y="1550" width="282" height="22" fill="#e88478" stroke="#333" stroke-width="0.8"/>
<rect x="1170" y="1572" width="282" height="18" fill="#2a7fd4" stroke="#333" stroke-width="0.8"/>
<path class="dv" d="M177,1550V1590M238,1550V1590M299,1550V1590M362,1550V1590M413,1550V1590M464,1550V1590M516,1550V1590M570,1550V1590M620,1550V1590M672,1550V1590M724,1550V1590M849,1550V1590M898,1550V1590M949,1550V1590M1000,1550V1590M1052,1550V1590M1103,1550V1590M1232,1550V1590M1290,1550V1590M1346,1550V1590M1399,1550V1590"/>
<g class="t f6 c">
<text x="149.5" y="1564">4 Dok</text><text x="207.5" y="1564">4 Dok</text><text x="268.5" y="1564">4 Dok</text><text x="330.5" y="1564">4 Dok</text>
<text x="387.5" y="1564">4 Dok</text><text x="438.5" y="1564">4 Dok</text><text x="490" y="1564">4 Dok</text><text x="543" y="1564">4 Dok</text>
<text x="595" y="1564">3 Dok</text><text x="646" y="1564">4 Dok</text><text x="698" y="1564">4 Dok</text><text x="751" y="1564">4 Dok</text>
<text x="873.5" y="1561"><tspan x="873.5">1 Tahun</tspan><tspan x="873.5" dy="7">2019</tspan></text><text x="923.5" y="1564">Satu kali</text><text x="974.5" y="1564">1 Dokumen</text>
<text x="1026" y="1564">3 Laporan</text><text x="1077.5" y="1564">4 Laporan</text><text x="1127.5" y="1564">4 Laporan</text>
<text x="1201" y="1564">1 Laporan</text><text x="1261" y="1564">1 Dokumen</text><text x="1318" y="1564">1 Laporan</text><text x="1372.5" y="1564">1 Laporan</text><text x="1425.5" y="1564">4 Laporan</text>
</g>
<g class="t f5 c" style="fill:#0a1a3a">
<text x="149.5" y="1583">Rp.35.000.000</text><text x="207.5" y="1583">Rp.75.000.000</text><text x="268.5" y="1583">Rp.50.000.000</text><text x="330.5" y="1583">Rp.25.000.000</text>
<text x="387.5" y="1583">Rp.25.000.000</text><text x="438.5" y="1583">Rp.30.000.000</text><text x="490" y="1583">Rp.25.000.000</text><text x="543" y="1583">Rp.30.000.000</text>
<text x="595" y="1583">Rp.25.000.000</text><text x="646" y="1583">Rp.40.000.000</text><text x="698" y="1583">Rp.25.000.000</text><text x="751" y="1583">Rp.30.000.000</text>
<text x="873.5" y="1583">Rp.150.000.000</text><text x="923.5" y="1583">Rp.60.000.000</text><text x="974.5" y="1583">Rp.90.000.000</text>
<text x="1026" y="1583">Rp.75.000.000</text><text x="1077.5" y="1583">Rp.50.000.000</text><text x="1127.5" y="1583">Rp.40.000.000</text>
<text x="1201" y="1583">Rp.50.000.000</text><text x="1261" y="1583">Rp.45.000.000</text><text x="1318" y="1583">Rp.45.000.000</text><text x="1372.5" y="1583">Rp.35.000.000</text><text x="1425.5" y="1583">Rp.60.000.000</text>
</g>
</g>

<!-- Connectors -->
<g id="connectors">
<!-- misi to tematik -->
<path d="M205,163V203M142,203H270" fill="none" stroke="#2b3b2b" stroke-width="1.5"/>
<line x1="142" y1="203" x2="142" y2="220" stroke="#2b3b2b" stroke-width="1.5" marker-end="url(#aG)"/>
<line x1="205" y1="203" x2="205" y2="220" stroke="#2b3b2b" stroke-width="1.5" marker-end="url(#aG)"/>
<line x1="270" y1="203" x2="270" y2="220" stroke="#2b3b2b" stroke-width="1.5" marker-end="url(#aG)"/>
<path d="M482,163V203M427,203H538" fill="none" stroke="#6a3a1a" stroke-width="1.5"/>
<line x1="427" y1="203" x2="427" y2="220" stroke="#6a3a1a" stroke-width="1.5" marker-end="url(#aB)"/>
<line x1="482" y1="203" x2="482" y2="220" stroke="#6a3a1a" stroke-width="1.5" marker-end="url(#aB)"/>
<line x1="538" y1="203" x2="538" y2="220" stroke="#6a3a1a" stroke-width="1.5" marker-end="url(#aB)"/>
<path d="M752,163V200M694,200H810" fill="none" stroke="#3a5aa8" stroke-width="1.5"/>
<line x1="694" y1="200" x2="694" y2="220" stroke="#3a5aa8" stroke-width="1.5" marker-end="url(#aU)"/>
<line x1="752" y1="200" x2="752" y2="220" stroke="#3a5aa8" stroke-width="1.5" marker-end="url(#aU)"/>
<line x1="810" y1="200" x2="810" y2="220" stroke="#3a5aa8" stroke-width="1.5" marker-end="url(#aU)"/>
<path d="M1047,163V197M965,197H1122" fill="none" stroke="#3a4a98" stroke-width="1.5"/>
<line x1="965" y1="197" x2="965" y2="220" stroke="#3a4a98" stroke-width="1.5" marker-end="url(#aU)"/>
<line x1="1022" y1="197" x2="1022" y2="220" stroke="#3a4a98" stroke-width="1.5" marker-end="url(#aU)"/>
<line x1="1072" y1="197" x2="1072" y2="220" stroke="#3a4a98" stroke-width="1.5" marker-end="url(#aU)"/>
<line x1="1122" y1="197" x2="1122" y2="220" stroke="#3a4a98" stroke-width="1.5" marker-end="url(#aU)"/>
<path d="M1283,163V202M1252,202H1310" fill="none" stroke="#c04040" stroke-width="1.5"/>
<line x1="1252" y1="202" x2="1252" y2="220" stroke="#c04040" stroke-width="1.5" marker-end="url(#aO)"/>
<line x1="1310" y1="202" x2="1310" y2="220" stroke="#c04040" stroke-width="1.5" marker-end="url(#aO)"/>
<!-- tematik brackets -->
<path d="M139,397V418H268V397M204,397V418" fill="none" stroke="#333" stroke-width="1.8"/>
<path d="M425,397V418H539V397M482,397V418" fill="none" stroke="#333" stroke-width="1.8"/>
<path d="M694,397V418H810V397M751,397V418" fill="none" stroke="#2a3a7a" stroke-width="1.8"/>
<path d="M974,397V418H1122V397M1027,397V418M1076,397V418" fill="none" stroke="#333" stroke-width="1.8"/>
<path d="M1249,397V415H1320V397" fill="none" stroke="#333" stroke-width="1.8"/>
<!-- dashed routes -->
<path class="route" d="M204,418V602H75V883H211V911" marker-end="url(#aK)"/>
<path class="route" d="M482,418V615H94V898H443V911" marker-end="url(#aK)"/>
<path class="route" d="M751,418V552"/>
<path class="route" d="M1051,418V707H782V887H481V911" marker-end="url(#aK)"/>
<path class="route" d="M1285,415V707H1157V903H689V911" marker-end="url(#aK)"/>
<!-- eselon labels -->
<line x1="75" y1="657" x2="121" y2="657" stroke="#333" stroke-width="1"/>
<line x1="47" y1="647" x2="121" y2="485" stroke="#333" stroke-width="1"/>
<line x1="75" y1="743" x2="236" y2="743" stroke="#445" stroke-width="1.2" marker-end="url(#aK)"/>
<line x1="47" y1="733" x2="121" y2="667" stroke="#333" stroke-width="1"/>
<line x1="87" y1="1242" x2="108" y2="1242" stroke="#333" stroke-width="1.2" marker-end="url(#aK)"/>
<line x1="52" y1="1228" x2="121" y2="812" stroke="#333" stroke-width="1"/>
<!-- eselon II to eselon III -->
<line class="red" x1="412" y1="683" x2="412" y2="721" marker-end="url(#aR)"/>
<line class="red" x1="1315" y1="683" x2="1315" y2="721" marker-end="url(#aR)"/>
<line x1="957" y1="684" x2="872" y2="721" stroke="#444" stroke-width="1" marker-end="url(#aK)"/>
<line x1="957" y1="684" x2="1044" y2="721" stroke="#444" stroke-width="1" marker-end="url(#aK)"/>
<!-- eselon III to sasaran kegiatan -->
<line class="red" x1="238" y1="875" x2="238" y2="916" marker-end="url(#aR)"/>
<line class="red" x1="465" y1="875" x2="465" y2="916" marker-end="url(#aR)"/>
<line class="red" x1="672" y1="875" x2="672" y2="916" marker-end="url(#aR)"/>
<line class="red" x1="893" y1="875" x2="893" y2="916" marker-end="url(#aR)"/>
<line class="red" x1="1041" y1="875" x2="1041" y2="916" marker-end="url(#aR)"/>
<line class="red" x1="1197" y1="875" x2="1197" y2="916" marker-end="url(#aR)"/>
<line class="red" x1="1253" y1="875" x2="1253" y2="916" marker-end="url(#aR)"/>
<line class="red" x1="1310" y1="875" x2="1310" y2="916" marker-end="url(#aR)"/>
<line class="red" x1="1395" y1="875" x2="1395" y2="916" marker-end="url(#aR)"/>
<!-- sasaran kegiatan to sub-kegiatan -->
<path class="fan" d="M230,1268L146,1302" marker-end="url(#aK)"/>
<path class="fan" d="M230,1268L202,1302" marker-end="url(#aK)"/>
<path class="fan" d="M230,1268L257,1302" marker-end="url(#aK)"/>
<path class="fan" d="M230,1268L317,1302" marker-end="url(#aK)"/>
<path class="fan" d="M458,1268L386,1302" marker-end="url(#aK)"/>
<path class="fan" d="M458,1268L438,1302" marker-end="url(#aK)"/>
<path class="fan" d="M458,1268L486,1302" marker-end="url(#aK)"/>
<path class="fan" d="M458,1268L534,1302" marker-end="url(#aK)"/>
<path class="fan" d="M668,1268L599,1302" marker-end="url(#aK)"/>
<path class="fan" d="M668,1268L646,1302" marker-end="url(#aK)"/>
<path class="fan" d="M668,1268L694,1302" marker-end="url(#aK)"/>
<path class="fan" d="M668,1268L746,1302" marker-end="url(#aK)"/>
<path class="fan" d="M893,1268L822,1302" marker-end="url(#aK)"/>
<path class="fan" d="M893,1268L876,1302" marker-end="url(#aK)"/>
<path class="fan" d="M893,1268L918,1302" marker-end="url(#aK)"/>
<path class="fan" d="M893,1268L969,1302" marker-end="url(#aK)"/>
<path class="fan" d="M1090,1268L1023,1302" marker-end="url(#aK)"/>
<path class="fan" d="M1090,1268L1074,1302" marker-end="url(#aK)"/>
<path class="fan" d="M1090,1268L1121,1302" marker-end="url(#aK)"/>
<path class="fan" d="M1196,1268L1196,1302" marker-end="url(#aK)"/>
<path class="fan" d="M1259,1268L1259,1302" marker-end="url(#aK)"/>
<path class="fan" d="M1316,1268L1316,1302" marker-end="url(#aK)"/>
<path class="fan" d="M1401,1268L1377,1302" marker-end="url(#aK)"/>
<path class="fan" d="M1401,1268L1423,1302" marker-end="url(#aK)"/>
</g>
</svg>
